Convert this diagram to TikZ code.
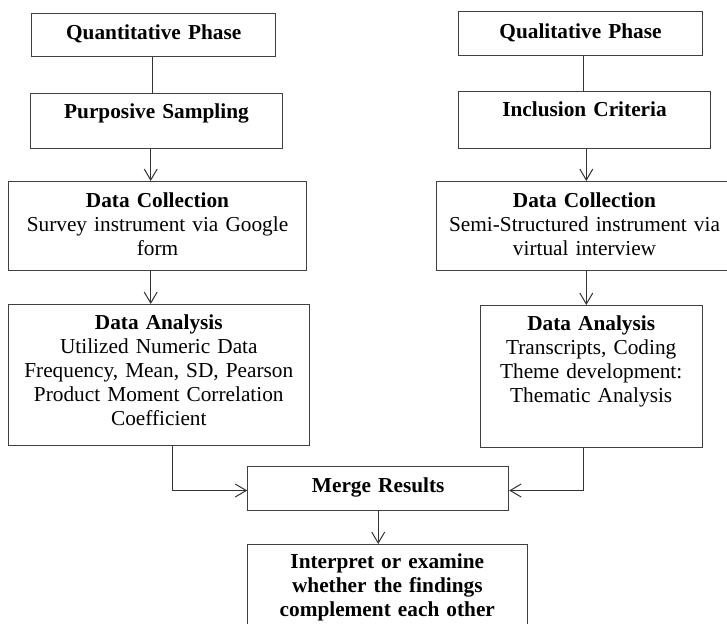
\documentclass[tikz,border=0pt]{standalone}
\usepackage{fontspec}
\setmainfont{Liberation Serif}
\usetikzlibrary{arrows.meta}
\begin{document}
\begin{tikzpicture}[x=0.5pt, y=-0.5pt, line width=0.5pt,
    box/.style={draw=black!75, anchor=north, align=center, inner xsep=0pt, inner ysep=0pt, font=\fontsize{10.65}{12}\selectfont},
    link/.style={draw=black!80},
    arr/.style={link, -{Straight Barb[length=5.5pt, width=6.5pt]}}]
      \useasboundingbox (0,0) rectangle (727,624);
      \clip (0,0) rectangle (727,624);

      \node[box, text width=122pt, text height=13pt, text depth=8.2pt] (qnt) at (153.7,13.3) {\textbf{Quantitative Phase}};
      \node[box, text width=126.2pt, text height=12.7pt, text depth=14.95pt] (purp) at (156.5,93) {\textbf{Purposive Sampling}};
      \node[box, text width=149.2pt, text height=12.8pt, text depth=31.7pt] (dcl) at (157.5,181) {\textbf{Data Collection}\\Survey instrument via Google\\form};
      \node[box, text width=150.5pt, text height=12.5pt, text depth=58pt] (dal) at (158.8,304) {\textbf{Data Analysis}\\Utilized Numeric Data\\Frequency, Mean, SD, Pearson\\Product Moment Correlation\\Coefficient};
      \node[box, text width=121.8pt, text height=13.5pt, text depth=8.5pt] (qlt) at (580.5,11) {\textbf{Qualitative Phase}};
      \node[box, text width=125.8pt, text height=12.6pt, text depth=16.05pt] (incl) at (584.5,91) {\textbf{Inclusion Criteria}};
      \node[box, text width=148pt, text height=12.8pt, text depth=31.7pt] (dcr) at (584.5,181) {\textbf{Data Collection}\\Semi-Structured instrument via\\virtual interview};
      \node[box, text width=111.2pt, text height=12.5pt, text depth=58.35pt] (dar) at (591.2,305) {\textbf{Data Analysis}\\Transcripts, Coding\\Theme development:\\Thematic Analysis};
      \node[box, text width=130.5pt, text height=13pt, text depth=9.15pt] (merge) at (378.2,465.7) {\textbf{Merge Results}};
      \node[box, text width=140pt, text height=12pt, text depth=34pt] (interp) at (387.3,544) {\textbf{Interpret or examine}\\\textbf{whether the findings}\\\textbf{complement each other}};

      \coordinate (lline) at (152.3,0);
      \coordinate (larrow) at (150.7,0);
      \coordinate (rline) at (583.3,0);
      \coordinate (rarrow) at (586.3,0);
      \coordinate (lfeed) at (172.3,490.5);
      \coordinate (rfeed) at (583,490.5);

      \draw[link] (qnt.south -| lline) -- (purp.north -| lline);
      \draw[arr] (purp.south -| larrow) -- (dcl.north -| larrow);
      \draw[arr] (dcl.south -| larrow) -- (dal.north -| larrow);
      \draw[link] (qlt.south -| rline) -- (incl.north -| rline);
      \draw[arr] (incl.south -| rarrow) -- (dcr.north -| rarrow);
      \draw[arr] (dcr.south -| rarrow) -- (dar.north -| rarrow);
      \draw[arr] (dal.south -| lfeed) |- (merge.west |- lfeed);
      \draw[arr] (dar.south -| rfeed) |- (merge.east |- rfeed);
      \draw[arr] (merge.south) -- (merge.south |- interp.north);
    \end{tikzpicture}
\end{document}
